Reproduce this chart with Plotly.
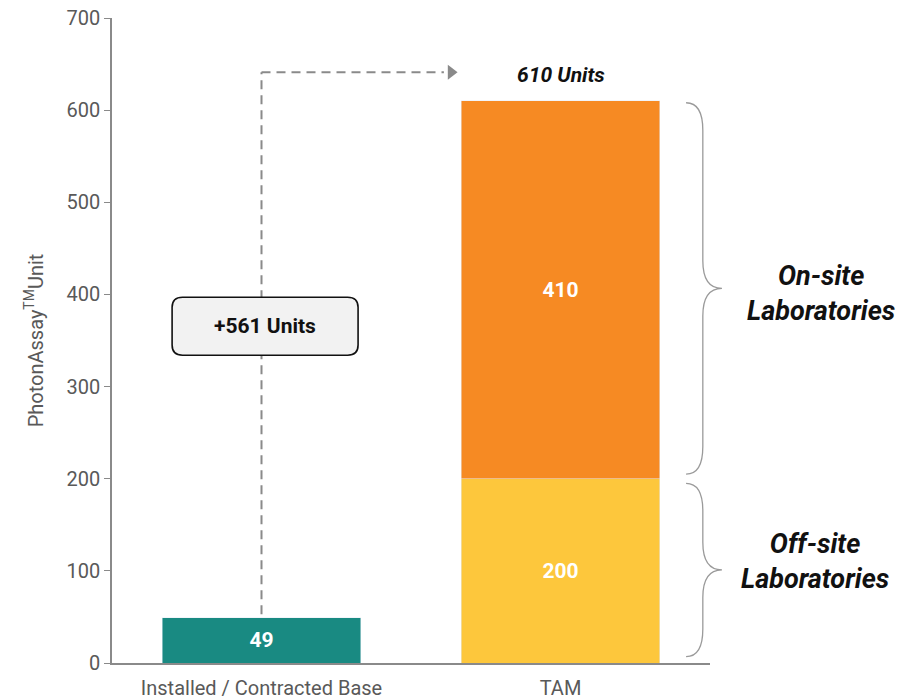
import plotly.graph_objects as go

categories = ["Installed / Contracted Base", "TAM"]
installed = [49]
offsite = [200]
onsite = [410]
y_ticks = [0, 100, 200, 300, 400, 500, 600, 700]
segment_names = ["On-site<br>Laboratories", "Off-site<br>Laboratories"]

x_pos = list(range(len(categories)))
tam_total = offsite[0] + onsite[0]
growth = tam_total - installed[0]

GREEN = "#198a82"
YELLOW = "#fdc73c"
ORANGE = "#f68a23"
GRAY = "#8a8a8a"
FONT = "Roboto"
BAR_W = 0.665

fig = go.Figure()
fig.add_bar(x=[x_pos[0]], y=installed, marker_color=GREEN, width=BAR_W,
            text=[str(v) for v in installed], textposition="inside",
            insidetextanchor="middle",
            textfont=dict(color="white", size=21, family=FONT, weight="bold"))
fig.add_bar(x=[x_pos[1]], y=offsite, marker_color=YELLOW, width=BAR_W,
            text=[str(v) for v in offsite], textposition="inside",
            insidetextanchor="middle",
            textfont=dict(color="white", size=21, family=FONT, weight="bold"))
fig.add_bar(x=[x_pos[1]], y=onsite, marker_color=ORANGE, width=BAR_W,
            text=[str(v) for v in onsite], textposition="inside",
            insidetextanchor="middle",
            textfont=dict(color="white", size=21, family=FONT, weight="bold"))

# dashed connector
arrow_y = tam_total + 31
fig.add_shape(type="line", x0=x_pos[0], x1=x_pos[0], y0=installed[0] + 4, y1=arrow_y,
              xref="x", yref="y", line=dict(color=GRAY, width=2, dash="9px,6px"))
fig.add_shape(type="line", x0=x_pos[0], x1=0.61, y0=arrow_y, y1=arrow_y,
              xref="x", yref="y", line=dict(color=GRAY, width=2, dash="9px,6px"))
fig.add_scatter(x=[0.634], y=[arrow_y], mode="markers", hoverinfo="skip",
                marker=dict(symbol="triangle-right", size=13, color=GRAY))

# rounded box
bx0, bx1, by0, by1 = -0.299, 0.323, 334, 397
rx, ry = 0.035, 11
path = (f"M {bx0+rx},{by0} L {bx1-rx},{by0} Q {bx1},{by0} {bx1},{by0+ry} "
        f"L {bx1},{by1-ry} Q {bx1},{by1} {bx1-rx},{by1} L {bx0+rx},{by1} "
        f"Q {bx0},{by1} {bx0},{by1-ry} L {bx0},{by0+ry} Q {bx0},{by0} {bx0+rx},{by0} Z")
fig.add_shape(type="path", path=path, xref="x", yref="y", fillcolor="#f2f2f2",
              line=dict(color="#111111", width=1.6), layer="above")
fig.add_annotation(x=(bx0 + bx1) / 2, y=(by0 + by1) / 2, xref="x", yref="y",
                   text=f"+{growth} Units", showarrow=False,
                   font=dict(size=21, color="#111111", family=FONT, weight="bold"))

fig.add_annotation(x=x_pos[1], y=tam_total + 28, xref="x", yref="y",
                   text=f"<b><i>{tam_total} Units</i></b>", showarrow=False,
                   font=dict(size=21, color="#111111", family=FONT))

# braces
def brace(y0, y1, xl=0.960, xm=0.988, xt=1.020, r=30):
    ym = (y0 + y1) / 2
    return (f"M {xl},{y1} Q {xm},{y1} {xm},{y1-r} L {xm},{ym+r} "
            f"Q {xm},{ym} {xt},{ym} Q {xm},{ym} {xm},{ym-r} "
            f"L {xm},{y0+r} Q {xm},{y0} {xl},{y0}")

for (b0, b1), name, xc, ysh in [((offsite[0] + 5, tam_total - 2), segment_names[0], 1.186, -5),
                                ((7, offsite[0] - 5), segment_names[1], 1.175, 8)]:
    fig.add_shape(type="path", path=brace(b0, b1), xref="paper", yref="y",
                  line=dict(color="#9a9a9a", width=1.3))
    fig.add_annotation(x=xc, y=(b0 + b1) / 2, xref="paper", yref="y", yshift=ysh,
                       xanchor="center", yanchor="middle",
                       text=f"<b><i>{name}</i></b>", showarrow=False, align="center",
                       font=dict(size=27, color="#111111", family=FONT))

fig.update_layout(
    barmode="stack", showlegend=False, width=920, height=700,
    margin=dict(l=112, r=210, t=18, b=37),
    plot_bgcolor="white", paper_bgcolor="white",
    font=dict(family=FONT, color="#595959"),
    xaxis=dict(range=[-0.5, 1.5], tickvals=x_pos, ticktext=categories,
               showline=True, linecolor=GRAY, linewidth=1.5, showgrid=False,
               zeroline=False, ticks="", tickfont=dict(size=20, color="#595959"),
               ticklabelstandoff=6, automargin=False),
    yaxis=dict(range=[0, 700], tickvals=y_ticks, showline=True, linecolor=GRAY,
               linewidth=1.5, showgrid=False, zeroline=False, ticks="outside",
               ticklen=6, tickcolor=GRAY, tickfont=dict(size=20, color="#595959"),
               automargin=False,
               title=dict(text="PhotonAssay<sup>TM</sup>Unit", font=dict(size=20, color="#595959"),
                          standoff=18)),
)
fig.write_html("out.html", config={"displayModeBar": False},
               post_script="document.body.style.margin='0';document.body.style.overflow='hidden';")
